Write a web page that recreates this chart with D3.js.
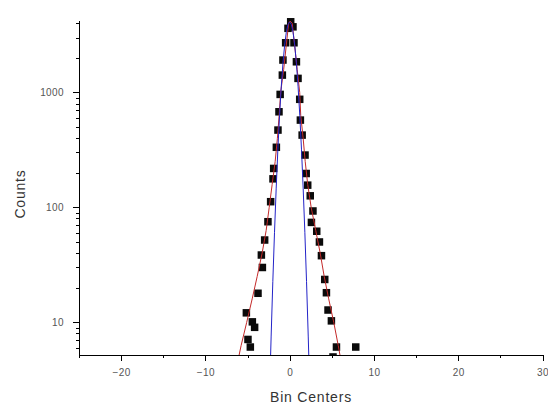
<!DOCTYPE html>
<meta charset="utf-8">
<head>
<title>Counts vs Bin Centers</title>
<style>
body { margin: 0; background: #fff; }
svg { display: block; }
.tick-label { font: 10px "Liberation Sans", Arial, sans-serif; fill: #555; letter-spacing: 0.4px; }
.title { font: 14px "Liberation Sans", Arial, sans-serif; fill: #333; letter-spacing: 0.8px; }
.axis path, .axis line { stroke: #000; stroke-width: 1px; shape-rendering: crispEdges; }
</style>
</head>
<body>
<script src="https://cdn.jsdelivr.net/npm/d3@7"></script>
<div id="chart"></div>
<script>

// histogram points (bin center, count)
var binX = [-5.14, -4.95, -4.67, -4.43, -4.16, -3.76, -3.36, -3.24, -2.97, -2.58, -2.26, -1.98, -1.9, -1.58,
  -1.39, -1.27, -1.13, -0.87, -0.8, -0.48, -0.2, 0.12, 0.39, 0.51, 0.8, 0.99, 1.19, 1.27, 1.48, 1.82,
  1.96, 2.14, 2.44, 2.76, 2.58, 3.21, 3.53, 3.77, 4.16, 4.36, 4.55, 4.95, 5.55, 5.14, 7.84];
var binCounts = [12.1, 7.1, 6.1, 10.1, 9.05, 17.9, 38.5, 30, 52, 75, 112, 177, 218, 333,
  470, 678, 960, 1413, 1910, 2700, 3606, 4110, 3715, 2700, 1845, 1323, 870, 574, 425, 285,
  197, 156, 126, 93, 74, 62, 50, 38, 23.6, 18.1, 12.8, 10.3, 6.1, 5.0, 6.1];

// red fit curve
var redX = [-6.1, -5.76, -5.1, -4.45, -3.86, -3.27, -2.79, -2.43, -2.08, -1.72, -1.46, -1.25, -1.07,
  -0.71, -0.42, -0.12, 0.05, 0.3, 0.6, 0.89, 1.19, 1.31, 1.6, 1.84, 2.14, 2.55, 3.09, 3.62, 4.1,
  4.63, 5.23, 5.76, 6.05];
var redY = [4.8, 6.3, 10, 16, 25, 40, 63, 100, 158, 251, 398, 631, 1000,
  1585, 2510, 3980, 4170, 3980, 2510, 1585, 1000, 631, 398, 251, 158, 100, 63, 40, 25,
  16, 10, 6.3, 4.8];

// blue gaussian curve
var blueX = [-2.4, -2.2, -2.0, -1.8, -1.6, -1.4, -1.2, -1.0, -0.8, -0.6, -0.4, -0.2, 0,
  0.2, 0.4, 0.6, 0.8, 1.0, 1.2, 1.4, 1.6, 1.8, 2.0, 2.2, 2.4];
var blueY = [2.3, 7.6, 22.6, 60.7, 147, 321, 630, 1117, 1785, 2570, 3330, 3890, 4100,
  3890, 3330, 2570, 1785, 1117, 630, 321, 147, 60.7, 22.6, 7.6, 2.3];

var xMajor = [-20, -10, 0, 10, 20, 30];
var xMinor = [-25, -15, -5, 5, 15, 25];
var yMajor = [10, 100, 1000];
var yMinor = [6, 7, 8, 9, 20, 30, 40, 50, 60, 70, 80, 90, 200, 300, 400, 500, 600, 700, 800, 900, 2000, 3000, 4000];

var width = 548, height = 405;
var plotL = 79, plotR = 542.5, plotT = 20.7, plotB = 355;

var x = d3.scaleLinear().domain([-25, 30]).range([plotL, plotR]);
var y = d3.scaleLog().domain([5.2, 4200]).range([plotB, plotT]);

var svg = d3.select('#chart').append('svg')
    .attr('width', width)
    .attr('height', height);

svg.append('rect').attr('width', width).attr('height', height).attr('fill', '#fff');

svg.append('clipPath').attr('id', 'plot-clip')
  .append('rect')
    .attr('x', plotL).attr('y', 0)
    .attr('width', plotR - plotL).attr('height', plotB);

var plot = svg.append('g').attr('clip-path', 'url(#plot-clip)');

// markers
var pts = binX.map(function (v, i) { return [v, binCounts[i]]; });
var sz = 7.5;
plot.selectAll('.pt')
  .data(pts)
  .enter().append('rect')
    .attr('class', 'pt')
    .attr('x', function (d) { return x(d[0]) - sz / 2; })
    .attr('y', function (d) { return y(d[1]) - sz / 2; })
    .attr('width', sz)
    .attr('height', sz)
    .attr('fill', '#0a0a0a');

var line = d3.line()
    .x(function (d) { return x(d[0]); })
    .y(function (d) { return y(d[1]); });

plot.append('path')
    .datum(redX.map(function (v, i) { return [v, redY[i]]; }))
    .attr('d', line)
    .attr('fill', 'none')
    .attr('stroke', '#c42a2a')
    .attr('stroke-width', 1);

plot.append('path')
    .datum(blueX.map(function (v, i) { return [v, blueY[i]]; }))
    .attr('d', line)
    .attr('fill', 'none')
    .attr('stroke', '#2323c8')
    .attr('stroke-width', 1);

// x axis
var gx = svg.append('g').attr('class', 'axis').attr('transform', 'translate(0,' + plotB + ')');
gx.call(d3.axisBottom(x).tickValues(xMajor).tickSize(6).tickSizeOuter(0).tickFormat(d3.format('d')));
gx.selectAll('.tick text').attr('class', 'tick-label').attr('dy', null).attr('y', 21);
gx.append('g').call(d3.axisBottom(x).tickValues(xMinor).tickSize(3).tickFormat(''))
  .select('.domain').remove();

// y axis
var gy = svg.append('g').attr('class', 'axis').attr('transform', 'translate(' + plotL + ',0)');
gy.call(d3.axisLeft(y).tickValues(yMajor).tickSize(6).tickSizeOuter(0).tickFormat(d3.format('d')));
gy.selectAll('.tick text').attr('class', 'tick-label').attr('x', -15);
gy.append('g').call(d3.axisLeft(y).tickValues(yMinor).tickSize(3).tickFormat(''))
  .select('.domain').remove();

// titles
svg.append('text')
    .attr('class', 'title')
    .attr('x', 311)
    .attr('y', 402)
    .attr('text-anchor', 'middle')
    .text('Bin Centers');

svg.append('text')
    .attr('class', 'title')
    .attr('transform', 'translate(25,194) rotate(-90)')
    .attr('text-anchor', 'middle')
    .text('Counts');

</script>
</body>
